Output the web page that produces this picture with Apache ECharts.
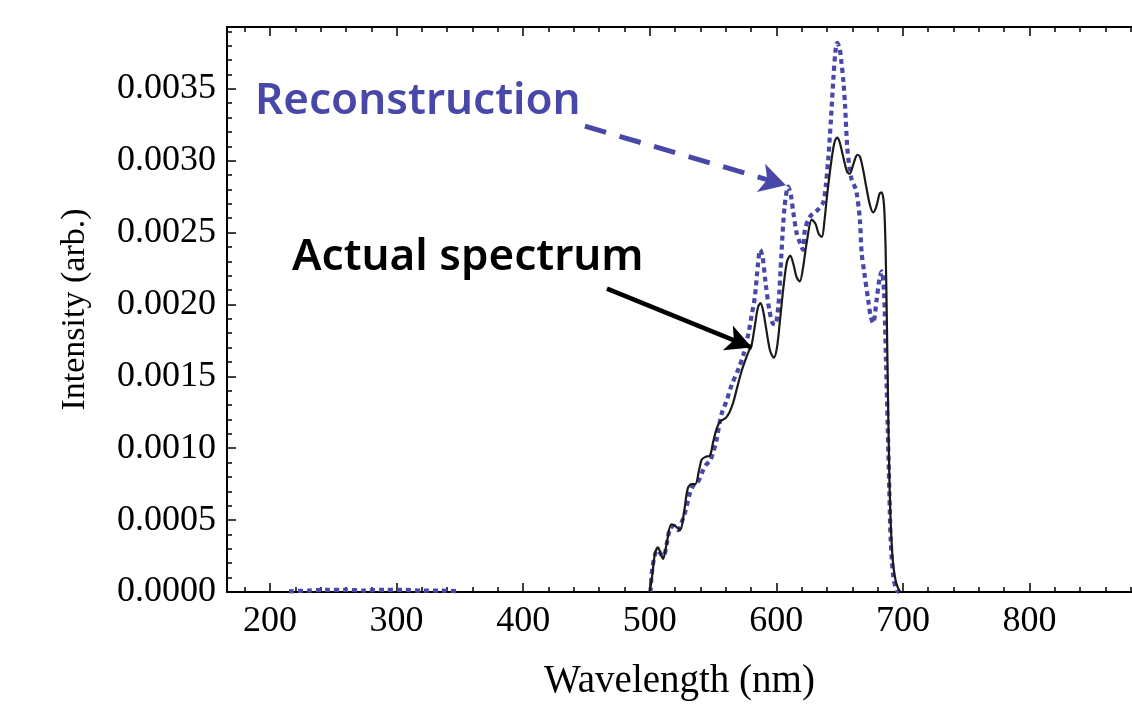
<!DOCTYPE html>
<html>
<head>
<meta charset="utf-8">
<title>Spectrum reconstruction</title>
<script src="https://cdn.jsdelivr.net/npm/echarts@6/dist/echarts.min.js"></script>
<style>
  html, body { margin: 0; padding: 0; background: #fff; }
  #main { width: 1132px; height: 706px; }
</style>
</head>
<body>
<div id="main"></div>
<script>
// tick positions
var xMajor = [200, 300, 400, 500, 600, 700, 800];
var xMinor = [180, 220, 240, 260, 280, 320, 340, 360, 380, 420, 440, 460, 480, 520, 540, 560, 580,
  620, 640, 660, 680, 720, 740, 760, 780, 820, 840, 860, 880];
var yMajor = [0, 0.0005, 0.001, 0.0015, 0.002, 0.0025, 0.003, 0.0035];
var yMinor = [0.0001, 0.0002, 0.0003, 0.0004, 0.0006, 0.0007, 0.0008, 0.0009, 0.0011, 0.0012, 0.0013, 0.0014,
  0.0016, 0.0017, 0.0018, 0.0019, 0.0021, 0.0022, 0.0023, 0.0024, 0.0026, 0.0027, 0.0028, 0.0029,
  0.0031, 0.0032, 0.0033, 0.0034, 0.0036, 0.0037, 0.0038, 0.0039];

// actual spectrum (black, solid)
var actualNm = [500, 502, 504, 506.5, 508.5, 510.5, 513, 517, 520, 524, 527, 530, 533, 536, 539, 541, 544, 547.6,
  550, 553, 556, 560, 563, 566, 569, 572, 575, 578, 580.5, 583, 585.5, 587.5, 589.5, 592, 595, 598, 600.5,
  603, 606, 608.5, 611, 613.5, 616, 618.5, 621, 624, 628, 631, 633.5, 636, 638, 640, 643.5, 646, 648, 650,
  653, 656, 658, 661, 664, 666, 668.5, 671, 674, 676.5, 679, 681.5, 683.2, 685, 686.3, 687.3, 688.3, 689.3,
  690.5, 692, 694, 696, 698];
var actualVal = [0, 0.00012, 0.00026, 0.00031, 0.00027, 0.00023, 0.00032, 0.00047, 0.00046, 0.00043, 0.00055,
  0.00072, 0.00075, 0.00075, 0.00085, 0.00092, 0.00094, 0.00095, 0.00104, 0.00114, 0.00119, 0.00121, 0.00125,
  0.00132, 0.00142, 0.00152, 0.0016, 0.00167, 0.00172, 0.00185, 0.00198, 0.00201, 0.00196, 0.00183, 0.00168,
  0.00163, 0.0017, 0.0019, 0.00215, 0.0023, 0.00234, 0.00228, 0.00219, 0.00216, 0.00225, 0.00243, 0.00259,
  0.00256, 0.00249, 0.00247, 0.00258, 0.00275, 0.003, 0.00313, 0.00316, 0.00313, 0.00302, 0.00292, 0.00291,
  0.00298, 0.00304, 0.00303, 0.00294, 0.00282, 0.00269, 0.00264, 0.00268, 0.00277, 0.00278, 0.0027, 0.0024,
  0.0019, 0.0013, 0.0008, 0.00045, 0.00022, 0.00009, 0.00003, 0];

// reconstruction (blue, dotted)
var reconNm = [215, 230, 245, 260, 275, 290, 305, 320, 335, 348, 420,
  500.5, 502, 504.5, 506.8, 509, 511, 513.5, 516, 519, 522.5, 525, 527.8, 531.8, 535, 538.3, 542.3, 545, 547.6,
  550, 552.3, 556.8, 560.7, 564.7, 570, 574, 578, 580.4, 583, 585.5, 587.2, 589, 591.5, 594.5, 597, 599, 601.5,
  604, 606.5, 609.4, 611.5, 613.4, 616, 618.6, 621, 622.6, 626.5, 631.8, 637, 639, 641, 643.1, 645, 646.7,
  648.1, 650, 651.5, 653, 654.2, 656, 657.8, 659.5, 661.5, 663.4, 666, 667.4, 669.5, 672.6, 674.5, 676.5,
  679.2, 681.5, 683.2, 685, 686.6, 688, 689.3, 690.4, 692.4, 695, 697];
var reconVal = [0.000005, 0.00001, 0.000015, 0.000015, 0.00001, 0.000015, 0.000015, 0.00001, 0.00001, 0.000005, null,
  0, 0.00016, 0.00027, 0.00029, 0.00026, 0.00025, 0.00034, 0.00044, 0.00046, 0.00043, 0.00048, 0.00055, 0.00069,
  0.00075, 0.00077, 0.00085, 0.00089, 0.00091, 0.00097, 0.00104, 0.00124, 0.00133, 0.00144, 0.00155, 0.00165,
  0.0018, 0.00192, 0.00205, 0.00228, 0.00238, 0.00234, 0.00215, 0.00196, 0.00187, 0.00186, 0.00198, 0.00235,
  0.00268, 0.00282, 0.00276, 0.00264, 0.0025, 0.00243, 0.00238, 0.00252, 0.00261, 0.00265, 0.00271, 0.00282,
  0.00301, 0.00328, 0.00356, 0.00376, 0.00382, 0.00378, 0.00368, 0.00355, 0.0034, 0.0031, 0.00295, 0.00287,
  0.00283, 0.00278, 0.00259, 0.00236, 0.00222, 0.00203, 0.00192, 0.00187, 0.00203, 0.00218, 0.00223, 0.0021,
  0.00162, 0.00115, 0.00069, 0.00035, 0.00011, 0.00001, 0];

var BLUE = "#4848a8";
var serif = "Liberation Serif";

function pairs(xs, ys) {
  return xs.map(function (x, i) { return [x, ys[i]]; });
}

function tickAxis(pos, values, len, withLine) {
  return {
    type: "value",
    position: pos,
    min: 166,
    max: 881,
    axisLine: { show: withLine, onZero: false, lineStyle: { color: "#000", width: 2 } },
    axisTick: { show: true, inside: true, length: len, customValues: values, lineStyle: { color: "#000", width: 1.5 } },
    axisLabel: { show: false },
    splitLine: { show: false }
  };
}

var chart = echarts.init(document.getElementById("main"));

var bottomMajor = tickAxis("bottom", xMajor, 9, true);
bottomMajor.axisLabel = {
  show: true,
  customValues: xMajor,
  color: "#000",
  fontFamily: serif,
  fontSize: 36,
  margin: 12
};
bottomMajor.name = "Wavelength (nm)";
bottomMajor.nameLocation = "middle";
bottomMajor.nameGap = 70;
bottomMajor.nameTextStyle = { color: "#000", fontFamily: serif, fontSize: 39 };

var option = {
  animation: false,
  backgroundColor: "#fff",
  grid: { left: 227, top: 27, right: 0, bottom: 113 },
  xAxis: [
    bottomMajor,
    tickAxis("bottom", xMinor, 5, false),
    tickAxis("top", xMajor, 9, true),
    tickAxis("top", xMinor, 5, false)
  ],
  yAxis: [
    {
      type: "value",
      position: "left",
      min: 0,
      max: 0.00393,
      axisLine: { show: true, lineStyle: { color: "#000", width: 2 } },
      axisTick: { show: true, inside: true, length: 9, customValues: yMajor, lineStyle: { color: "#000", width: 1.5 } },
      axisLabel: {
        customValues: yMajor,
        color: "#000",
        fontFamily: serif,
        fontSize: 36,
        margin: 11,
        formatter: function (v) { return v.toFixed(4); }
      },
      splitLine: { show: false },
      name: "Intensity (arb.)",
      nameLocation: "middle",
      nameGap: 135,
      nameTextStyle: { color: "#000", fontFamily: serif, fontSize: 34 }
    },
    {
      type: "value",
      position: "left",
      min: 0,
      max: 0.00393,
      axisLine: { show: false },
      axisTick: { show: true, inside: true, length: 5, customValues: yMinor, lineStyle: { color: "#000", width: 1.5 } },
      axisLabel: { show: false },
      splitLine: { show: false }
    }
  ],
  graphic: [
    {
      type: "text",
      left: 255,
      top: 79,
      style: { text: "Reconstruction", fill: BLUE, font: "600 44px 'Noto Sans'" }
    },
    {
      type: "text",
      left: 292,
      top: 235,
      style: { text: "Actual spectrum", fill: "#000", font: "600 44px 'Noto Sans'" }
    }
  ],
  series: [
    {
      name: "Actual spectrum",
      type: "line",
      data: pairs(actualNm, actualVal),
      showSymbol: false,
      smooth: 0.3,
      lineStyle: { color: "#1a1a1a", width: 2.2 },
      z: 3,
      markLine: {
        silent: true,
        symbol: ["none", "arrow"],
        symbolSize: [20, 26],
        label: { show: false },
        lineStyle: { color: "#000", width: 4.5, type: "solid" },
        data: [[{ coord: [466.2, 0.00211] }, { coord: [580.7, 0.0017] }]]
      }
    },
    {
      name: "Reconstruction",
      type: "line",
      data: pairs(reconNm, reconVal),
      showSymbol: false,
      smooth: 0.3,
      lineStyle: { color: BLUE, width: 4.2, type: [5, 4] },
      z: 2,
      markLine: {
        silent: true,
        symbol: ["none", "arrow"],
        symbolSize: [22, 26],
        label: { show: false },
        lineStyle: { color: BLUE, width: 5, type: [22, 14] },
        data: [[{ coord: [448.8, 0.00324] }, { coord: [607.6, 0.00283] }]]
      }
    }
  ]
};

chart.setOption(option);
</script>
</body>
</html>
